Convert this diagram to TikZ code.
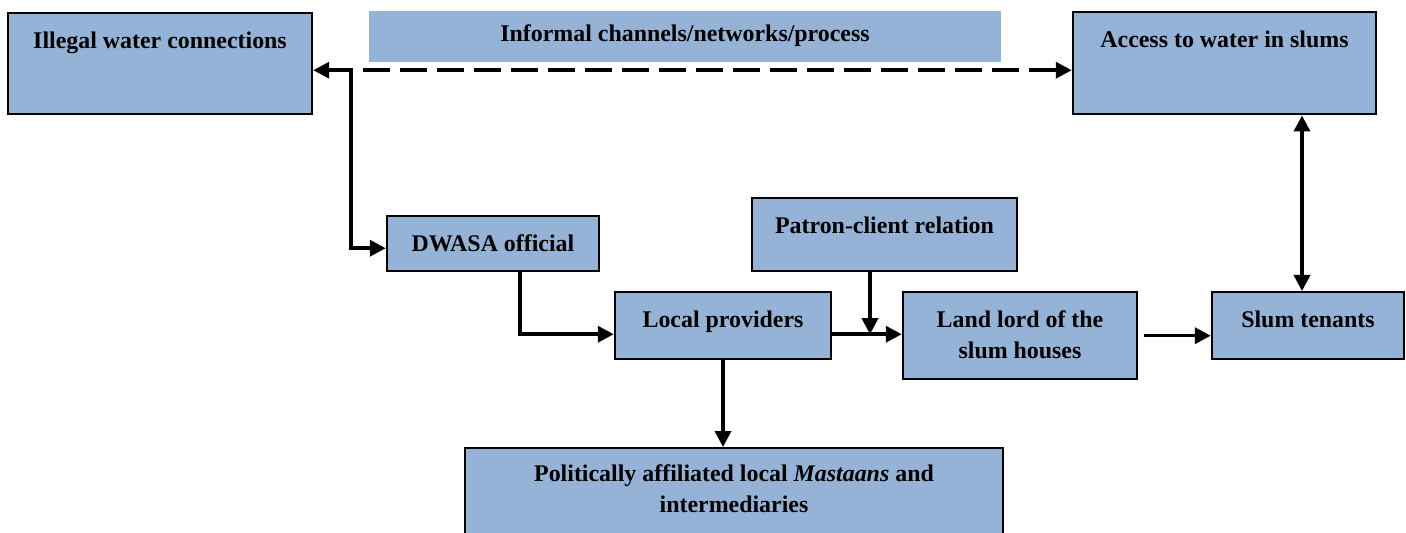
\documentclass[tikz,border=0pt]{standalone}
\usepackage{fontspec}
\setmainfont{Liberation Serif}
\usetikzlibrary{arrows.meta}
\definecolor{boxblue}{RGB}{149,179,215}
\tikzset{
	box/.style={draw, line width=1.4pt, fill=boxblue, inner xsep=2pt, inner ysep=0pt, anchor=north,
		align=center, text height=0.7cm, font=\fontsize{13.6}{17.6}\selectfont\bfseries},
	link/.style={line width=2pt, -{Triangle[length=0.32cm,width=0.32cm]}},
	bilink/.style={line width=2pt, {Triangle[length=0.32cm,width=0.32cm]}-{Triangle[length=0.32cm,width=0.32cm]}},
}
\begin{document}
\begin{tikzpicture}
		\useasboundingbox (0,0) rectangle (28.12,-10.66);

		\node (ill)[box, minimum width=6.08cm, text depth=1.32cm] at (3.2,-0.24)   {Illegal water connections};
		\node (inf)[box, draw=none, minimum width=12.64cm, text height=0.6cm, text depth=0.42cm] at (13.7,-0.2)   {Informal channels/networks/process};
		\node (acc)[box, minimum width=6.06cm, text depth=1.34cm] at (24.49,-0.22)   {Access to water in slums};

		\node (dw)[box, minimum width=4.24cm, text depth=0.4cm] at (9.86,-4.3)   {DWASA official};
		\node (pat)[box, minimum width=5.3cm, text depth=0.76cm] at (17.69,-3.94)   {Patron-client relation};

		\node (loc)[box, minimum width=4.32cm, text depth=0.64cm] at (14.46,-5.82)   {Local providers};
		\node (land)[box, minimum width=4.68cm, text height=1.32cm, text depth=0.42cm] at (20.4,-5.82)   {Land lord of the\\slum houses};
		\node (ten)[box, minimum width=3.84cm, text depth=0.64cm] at (26.16,-5.82)   {Slum tenants};

		\node (pol)[box, minimum width=10.76cm, text height=1.28cm, text depth=0.6cm] at (14.68,-8.94)   {Politically affiliated local \textit{Mastaans} and\\intermediaries};

		\coordinate (il) at ([yshift=-0.13cm]ill.east);
		\coordinate (lp) at ([yshift=-0.17cm]loc.east);
		\coordinate (pc) at ([xshift=-0.29cm]pat.south);
		\coordinate (tn) at ([xshift=-0.12cm]ten.north);

		\draw[bilink] (il) -- ++(0.76,0) |- ([yshift=-0.09cm]dw.west);
		\draw[link, dash pattern=on 0.54cm off 0.2cm, shorten <=1.0cm] (il) -- (il -| acc.west);
		\draw[link] ([xshift=0.54cm]dw.south) |- ([yshift=-0.17cm]loc.west);
		\draw[link] (lp) -- (lp -| land.west);
		\draw[link] (pc) -- (pc |- lp);
		\draw[link, shorten <=0.12cm] (land.east) -- (land.east -| ten.west);
		\draw[bilink] (tn) -- (tn |- acc.south);
		\draw[link] (loc.south) -- (loc.south |- pol.north);
	\end{tikzpicture}
\end{document}
